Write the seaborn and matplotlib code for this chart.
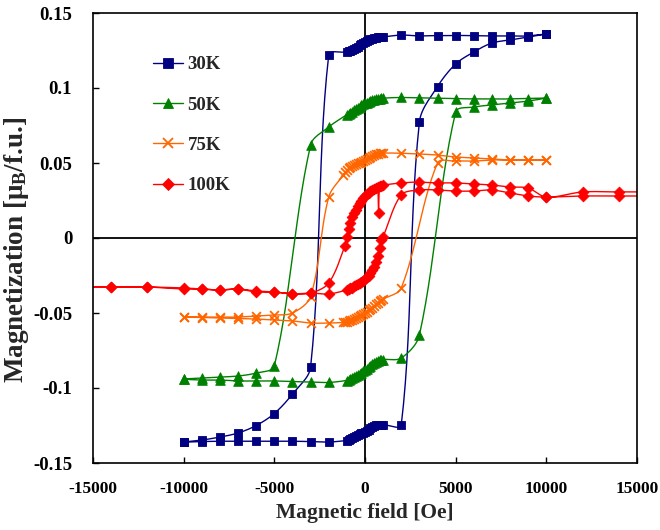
import numpy as np
import pandas as pd
import matplotlib
matplotlib.use("Agg")
import matplotlib.pyplot as plt
from matplotlib.lines import Line2D
import seaborn as sns

# ---- M(H) hysteresis loops: field in Oe, magnetization in muB/f.u. ----
# each loop: descending branch (high field -> low field), then ascending branch

H30_dn = [10000, 9000, 8000, 7000, 6000, 5000, 4000, 3000, 2000,
          1000, 900, 800, 700, 600, 500, 400, 300, 200, 100, 0,
          -100, -200, -300, -400, -500, -600, -700, -800, -900, -1000,
          -2000, -3000, -4000, -5000, -6000, -7000, -8000, -9000, -10000]
M30_dn = [0.1360, 0.1347, 0.1347, 0.1347, 0.1350, 0.1350, 0.1350, 0.1347, 0.1353,
          0.1340, 0.1339, 0.1338, 0.1337, 0.1335, 0.1333, 0.1330, 0.1325, 0.1319, 0.1313, 0.1306,
          0.1299, 0.1292, 0.1284, 0.1276, 0.1268, 0.1261, 0.1255, 0.1250, 0.1245, 0.1240,
          0.1220, -0.0860, -0.1040, -0.1170, -0.1250, -0.1300, -0.1327, -0.1347, -0.1360]
H30_up = [-10000, -9000, -8000, -7000, -6000, -5000, -4000, -3000, -2000,
          -1000, -900, -800, -700, -600, -500, -400, -300, -200, -100, 0,
          100, 200, 300, 400, 500, 600, 700, 800, 900, 1000,
          2000, 3000, 4000, 5000, 6000, 7000, 8000, 9000, 10000]
M30_up = [-0.1360, -0.1357, -0.1355, -0.1355, -0.1355, -0.1355, -0.1355, -0.1357, -0.1360,
          -0.1350, -0.1346, -0.1341, -0.1335, -0.1328, -0.1320, -0.1313, -0.1307, -0.1302, -0.1297, -0.1292,
          -0.1285, -0.1277, -0.1268, -0.1259, -0.1252, -0.1248, -0.1246, -0.1245, -0.1245, -0.1245,
          -0.1245, 0.0773, 0.1010, 0.1160, 0.1240, 0.1300, 0.1320, 0.1340, 0.1360]

H50_dn = [10000, 9000, 8000, 7000, 6000, 5000, 4000, 3000, 2000,
          1000, 900, 800, 700, 600, 500, 400, 300, 200, 100, 0,
          -100, -200, -300, -400, -500, -600, -700, -800, -900, -1000,
          -2000, -3000, -5000, -6000, -7000, -8000, -9000, -10000]
M50_dn = [0.0933, 0.0930, 0.0927, 0.0927, 0.0927, 0.0930, 0.0933, 0.0935, 0.0937,
          0.0933, 0.0932, 0.0930, 0.0928, 0.0925, 0.0921, 0.0917, 0.0912, 0.0907, 0.0902, 0.0897,
          0.0891, 0.0884, 0.0876, 0.0867, 0.0858, 0.0850, 0.0842, 0.0835, 0.0828, 0.0822,
          0.0740, 0.0620, -0.0853, -0.0900, -0.0920, -0.0927, -0.0933, -0.0940]
H50_up = [-10000, -9000, -8000, -7000, -6000, -5000, -4000, -3000, -2000,
          -1000, -900, -800, -700, -600, -500, -400, -300, -200, -100, 0,
          100, 200, 300, 400, 500, 600, 700, 800, 900, 1000,
          2000, 3000, 5000, 6000, 7000, 8000, 9000, 10000]
M50_up = [-0.0940, -0.0947, -0.0947, -0.0953, -0.0953, -0.0953, -0.0957, -0.0960, -0.0963,
          -0.0950, -0.0946, -0.0941, -0.0935, -0.0928, -0.0920, -0.0912, -0.0905, -0.0897, -0.0889, -0.0880,
          -0.0870, -0.0860, -0.0850, -0.0841, -0.0833, -0.0826, -0.0820, -0.0816, -0.0813, -0.0810,
          -0.0800, -0.0647, 0.0840, 0.0873, 0.0887, 0.0900, 0.0913, 0.0933]

H75_dn = [10000, 9000, 8000, 7000, 6000, 5000, 4000, 3000, 2000,
          1000, 900, 800, 700, 600, 500, 400, 300, 200, 100, 0,
          -100, -200, -300, -400, -500, -600, -700, -800, -900, -1000, -1100, -1200,
          -2000, -3000, -4000, -5000, -6000, -7000, -8000, -9000, -10000]
M75_dn = [0.0520, 0.0520, 0.0520, 0.0527, 0.0533, 0.0540, 0.0553, 0.0560, 0.0565,
          0.0567, 0.0566, 0.0564, 0.0561, 0.0557, 0.0552, 0.0546, 0.0540, 0.0534, 0.0527, 0.0520,
          0.0514, 0.0508, 0.0503, 0.0498, 0.0493, 0.0488, 0.0482, 0.0474, 0.0464, 0.0452, 0.0438, 0.0420,
          0.0273, -0.0390, -0.0500, -0.0513, -0.0520, -0.0527, -0.0527, -0.0527, -0.0527]
H75_up = [-10000, -9000, -8000, -7000, -6000, -5000, -4000, -3000, -2000,
          -1200, -1100, -1000, -900, -800, -700, -600, -500, -400, -300, -200, -100, 0,
          100, 200, 300, 400, 500, 600, 700, 800, 900, 1000,
          2000, 4000, 5000, 6000, 7000, 8000, 9000, 10000]
M75_up = [-0.0527, -0.0530, -0.0533, -0.0537, -0.0540, -0.0547, -0.0553, -0.0567, -0.0567,
          -0.0563, -0.0560, -0.0557, -0.0553, -0.0549, -0.0545, -0.0540, -0.0533, -0.0526, -0.0519, -0.0512, -0.0506, -0.0500,
          -0.0492, -0.0483, -0.0474, -0.0464, -0.0453, -0.0443, -0.0433, -0.0423, -0.0415, -0.0408,
          -0.0333, 0.0500, 0.0513, 0.0513, 0.0520, 0.0520, 0.0520, 0.0520]

H100_dn = [16000, 14000, 12000, 10000, 9000, 8000, 7000, 6000, 5000, 4000, 3000, 2000,
           1000, 900, 800, 750, 700, 600, 500, 400, 300, 200, 100, 0,
           -100, -200, -300, -400, -500, -600, -700, -800, -900, -1000, -1100,
           -2000, -3000, -4000, -5000, -6000, -7000, -8000, -9000, -10000, -12000, -14000, -16000]
M100_dn = [0.0307, 0.0307, 0.0307, 0.0273, 0.0333, 0.0340, 0.0353, 0.0360, 0.0367, 0.0367, 0.0373, 0.0367,
           0.0353, 0.0349, 0.0345, 0.0167, 0.0341, 0.0336, 0.0329, 0.0321, 0.0312, 0.0302, 0.0291, 0.0278,
           0.0264, 0.0248, 0.0231, 0.0212, 0.0190, 0.0165, 0.0137, 0.0103, 0.0060, 0.0010, -0.0050,
           -0.0300, -0.0367, -0.0370, -0.0360, -0.0353, -0.0340, -0.0347, -0.0340, -0.0333, -0.0327, -0.0327, -0.0327]
H100_up = [-16000, -14000, -12000, -10000, -9000, -8000, -7000, -6000, -5000, -4000, -3000, -2000,
           -1000, -900, -800, -700, -600, -500, -400, -300, -200, -100, 0,
           100, 200, 300, 400, 500, 600, 700, 800, 900, 1000,
           2000, 3000, 4000, 5000, 6000, 7000, 8000, 9000, 10000, 12000, 14000, 16000]
M100_up = [-0.0327, -0.0327, -0.0327, -0.0340, -0.0340, -0.0347, -0.0340, -0.0360, -0.0360, -0.0373, -0.0367, -0.0373,
           -0.0347, -0.0342, -0.0336, -0.0330, -0.0323, -0.0316, -0.0309, -0.0302, -0.0294, -0.0285, -0.0275,
           -0.0263, -0.0250, -0.0234, -0.0216, -0.0195, -0.0160, -0.0120, -0.0065, -0.0015, 0.0010,
           0.0287, 0.0320, 0.0320, 0.0313, 0.0313, 0.0320, 0.0300, 0.0280, 0.0273, 0.0280, 0.0280, 0.0280]

TEMPS = ["30K", "50K", "75K", "100K"]
COLORS = ["#000080", "#008000", "#FF6600", "#FF0000"]
MARKERS = ["s", "^", "x", "D"]
MSIZES = [38, 48, 40, 30]

X_TICKS = [-15000, -10000, -5000, 0, 5000, 10000, 15000]
Y_TICKS = [-0.15, -0.1, -0.05, 0, 0.05, 0.1, 0.15]
Y_TICK_LABELS = ["-0.15", "-0.1", "-0.05", "0", "0.05", "0.1", "0.15"]

loops = {
    "30K": (H30_dn, M30_dn, H30_up, M30_up),
    "50K": (H50_dn, M50_dn, H50_up, M50_up),
    "75K": (H75_dn, M75_dn, H75_up, M75_up),
    "100K": (H100_dn, M100_dn, H100_up, M100_up),
}

rows = []
for t in TEMPS:
    h_dn, m_dn, h_up, m_up = loops[t]
    h = list(h_dn) + list(h_up)
    m = list(m_dn) + list(m_up)
    for i, (hh, mm) in enumerate(zip(h, m)):
        rows.append({"T": t, "H": hh, "M": mm, "order": i})
df = pd.DataFrame(rows)

sns.set_style("white")
plt.rcParams["font.family"] = ["Liberation Serif", "DejaVu Serif"]
plt.rcParams["font.weight"] = "bold"
plt.rcParams["mathtext.fontset"] = "custom"
plt.rcParams["mathtext.rm"] = "Liberation Serif:bold"
plt.rcParams["mathtext.bf"] = "Liberation Serif:bold"
plt.rcParams["mathtext.it"] = "Liberation Serif:bold"

fig = plt.figure(figsize=(6.6, 5.3), dpi=100)
ax = fig.add_axes([93 / 660, 1 - 463 / 530, 544 / 660, 450 / 530])
ax.set_xlim(-15000, 15000)
ax.set_ylim(-0.15, 0.15)


def smooth_path(ax, h, m, nseg=14):
    """Bezier smoothing of a polyline in display space (chart-style smoothed line)."""
    P = ax.transData.transform(np.column_stack([h, m]).astype(float))
    # drop consecutive duplicates (turning points shared by both branches)
    keep = [0]
    for i in range(1, len(P)):
        if np.hypot(*(P[i] - P[keep[-1]])) > 1e-9:
            keep.append(i)
    P = P[keep]
    n = len(P)
    out = [P[0]]
    t = np.linspace(0, 1, nseg + 1)[1:, None]
    for i in range(n - 1):
        p0 = P[i - 1] if i > 0 else P[i]
        p1, p2 = P[i], P[i + 1]
        p3 = P[i + 2] if i + 2 < n else P[i + 1]
        d01 = np.hypot(*(p1 - p0))
        d12 = np.hypot(*(p2 - p1))
        d23 = np.hypot(*(p3 - p2))
        c1 = p1 + (p2 - p0) * (d12 / (d01 + d12)) / 3.0
        c2 = p2 - (p3 - p1) * (d12 / (d12 + d23)) / 3.0
        seg = ((1 - t) ** 3) * p1 + 3 * ((1 - t) ** 2) * t * c1 + 3 * (1 - t) * t ** 2 * c2 + t ** 3 * p2
        out.extend(seg)
    out = np.array(out)
    return ax.transData.inverted().transform(out)


# axis lines through the origin
ax.axhline(0, color="black", lw=1.3, zorder=1)
ax.axvline(0, color="black", lw=1.3, zorder=1)

for t, c, mk, ms in zip(TEMPS, COLORS, MARKERS, MSIZES):
    sub = df[df["T"] == t].sort_values("order")
    curve = smooth_path(ax, sub["H"].values, sub["M"].values)
    cdf = pd.DataFrame({"H": curve[:, 0], "M": curve[:, 1]})
    sns.lineplot(data=cdf, x="H", y="M", sort=False, estimator=None,
                 color=c, lw=1.0, ax=ax, zorder=2)
    if mk == "x":
        sns.scatterplot(data=sub, x="H", y="M", marker=mk, s=ms, color=c,
                        linewidth=1.3, ax=ax, zorder=3)
    else:
        sns.scatterplot(data=sub, x="H", y="M", marker=mk, s=ms, color=c,
                        edgecolor=c, linewidth=0.6, ax=ax, zorder=3)

ax.set_xlim(-15000, 15000)
ax.set_ylim(-0.15, 0.15)
ax.set_xticks(X_TICKS)
ax.set_xticklabels([str(v) for v in X_TICKS], fontsize=12.5, fontweight="bold")
ax.set_yticks(Y_TICKS)
ax.set_yticklabels(Y_TICK_LABELS, fontsize=13.5, fontweight="bold")
ax.tick_params(axis="both", direction="in", length=4, width=1, colors="black",
               left=True, bottom=True)
ax.tick_params(axis="x", pad=13)
ax.tick_params(axis="y", pad=15)
for sp in ax.spines.values():
    sp.set_color("black")
    sp.set_linewidth(1.2)

ax.set_xlabel("Magnetic field [Oe]", fontsize=15.5, fontweight="bold")
ax.xaxis.set_label_coords(0.5, -(503 - 463) / 450)
ax.set_ylabel(r"Magnetization [μ$_\mathrm{B}$/f.u.]", fontsize=19.5, fontweight="bold")
ax.yaxis.set_label_coords(-(93 - 31) / 544, (463 - 250) / 450)

handles = [Line2D([0], [0], color=c, lw=1.0, marker=mk,
                  markersize=(6.5 if mk != "D" else 6),
                  markerfacecolor=c, markeredgecolor=c,
                  markeredgewidth=(1.3 if mk == "x" else 0.6))
           for c, mk in zip(COLORS, MARKERS)]
ax.legend(handles, TEMPS, loc="upper left", bbox_to_anchor=(153 / 660, 1 - 56 / 530),
          bbox_transform=fig.transFigure, frameon=False, borderpad=0, borderaxespad=0,
          handlelength=1.6, handletextpad=0.25, labelspacing=1.24,
          prop={"family": "Liberation Serif", "weight": "bold", "size": 13.5})

fig.savefig("out.png", dpi=100)
